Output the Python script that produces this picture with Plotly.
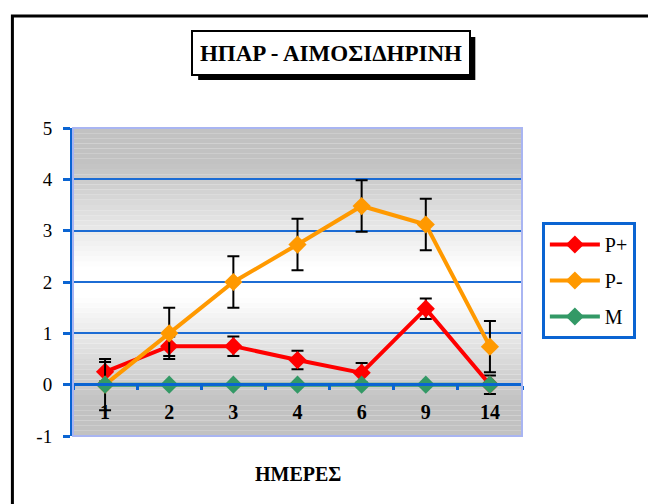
import plotly.graph_objects as go

# ---- data -------------------------------------------------------------
days = ["1", "2", "3", "4", "6", "9", "14"]

p_plus = [0.25, 0.75, 0.75, 0.48, 0.23, 1.48, 0.0]
p_plus_err = [0.19, 0.19, 0.19, 0.18, 0.19, 0.20, 0.18]

p_minus = [0.0, 1.0, 2.0, 2.73, 3.48, 3.12, 0.74]
p_minus_err = [0.5, 0.5, 0.5, 0.5, 0.5, 0.5, 0.5]

m_vals = [0, 0, 0, 0, 0, 0, 0]

y_ticks = [-1, 0, 1, 2, 3, 4, 5]
y_tick_text = ["-1", "0", "1", "2", "3", "4", "5"]

# ---- layout geometry (pixels) ---------------------------------------
W, H = 648, 504
L, R, T, B = 73, 525, 128, 436  # plot area


def px(x):
    return (x - L) / (R - L)


def py(y):
    return (B - y) / (B - T)


SERIF = "Liberation Serif, Times New Roman, serif"
AXIS_BLUE = "#0a64d2"
GRID_BLUE = "#1c6cd4"
EDGE = "#a9b5f2"

fig = go.Figure()

err_style = dict(type="data", color="black", thickness=2, width=6, visible=True)

fig.add_trace(go.Scatter(
    x=days, y=p_plus, name="P+", mode="lines+markers", legendgroup="a",
    line=dict(color="#ff0000", width=4),
    marker=dict(symbol="diamond", size=14, color="#ff0000"),
    error_y=dict(array=p_plus_err, **err_style),
))
fig.add_trace(go.Scatter(
    x=days, y=p_minus, name="P-", mode="lines+markers", legendgroup="b",
    line=dict(color="#ff9900", width=4),
    marker=dict(symbol="diamond", size=14, color="#ff9900"),
    error_y=dict(array=p_minus_err, **err_style),
))
fig.add_trace(go.Scatter(
    x=days, y=m_vals, name="M", mode="lines+markers", legendgroup="c",
    line=dict(color="#339966", width=4),
    marker=dict(symbol="diamond", size=14, color="#339966"),
))

shapes = []

# plot-area fill: grey at top and bottom, white band in the middle
steps = 60
for i in range(steps):
    y0 = -1 + 6 * i / steps
    y1 = -1 + 6 * (i + 1) / steps
    v = (y0 + y1) / 2
    if v > 2.3:
        t = min(1.0, (v - 2.3) / 2.0)
    elif v < 1.7:
        t = min(1.0, (1.7 - v) / 2.0)
    else:
        t = 0.0
    g = round(255 - t * (255 - 194))
    shapes.append(dict(
        type="rect", xref="paper", yref="y", x0=0, x1=1, y0=y0, y1=y1,
        fillcolor=f"rgb({g},{g},{g})", line=dict(width=0), layer="below",
    ))

# light frame around the plot area
shapes.append(dict(
    type="rect", xref="paper", yref="paper", x0=0, x1=1, y0=0, y1=1,
    line=dict(color=EDGE, width=2), fillcolor="rgba(0,0,0,0)", layer="above",
))

# outer chart frame
shapes.append(dict(
    type="rect", xref="paper", yref="paper",
    x0=px(12), x1=px(W + 40), y0=py(H + 40), y1=py(16),
    line=dict(color="black", width=3), fillcolor="rgba(0,0,0,0)",
))

# title drop shadow
shapes.append(dict(
    type="rect", xref="paper", yref="paper",
    x0=px(199), x1=px(478), y0=py(80), y1=py(37),
    fillcolor="black", line=dict(width=0), layer="above",
))

annotations = [
    dict(
        text="<b>ΗΠΑΡ - ΑΙΜΟΣΙΔΗΡΙΝΗ</b>", xref="paper", yref="paper",
        x=px(332.5), y=py(52.5), xanchor="center", yanchor="middle",
        showarrow=False, font=dict(family=SERIF, size=23, color="black"),
        bgcolor="white", bordercolor="black", borderwidth=2, borderpad=2,
        width=272, height=38,
    ),
    dict(
        text="<b>ΗΜΕΡΕΣ</b>", xref="paper", yref="paper",
        x=px(299), y=py(474), xanchor="center", yanchor="middle",
        showarrow=False, font=dict(family=SERIF, size=20, color="black"),
    ),
]

fig.update_layout(
    width=W, height=H,
    margin=dict(l=L, r=W - R, t=T, b=H - B, pad=0),
    paper_bgcolor="white", plot_bgcolor="white",
    shapes=shapes, annotations=annotations,
    showlegend=True,
    legend=dict(
        x=px(545), y=py(222), xanchor="left", yanchor="top",
        bgcolor="white", bordercolor=AXIS_BLUE, borderwidth=3,
        font=dict(family=SERIF, size=20, color="black"),
        tracegroupgap=7, itemwidth=50,
    ),
    xaxis=dict(
        type="category", categoryorder="array", categoryarray=days,
        range=[-0.5, 6.5], anchor="free", position=py(384),
        showline=True, linecolor=AXIS_BLUE, linewidth=3,
        ticks="outside", tickson="boundaries", ticklen=4, tickwidth=3,
        tickcolor=AXIS_BLUE, showgrid=False, zeroline=False,
        tickfont=dict(family=SERIF, size=20, color="black", weight="bold"),
        ticklabelstandoff=9,
    ),
    yaxis=dict(
        range=[-1, 5], tickvals=y_ticks, ticktext=y_tick_text,
        showline=True, linecolor=AXIS_BLUE,
        linewidth=3, ticks="outside", ticklen=7, tickwidth=3,
        tickcolor=AXIS_BLUE, showgrid=True, gridcolor=GRID_BLUE, gridwidth=2,
        zeroline=False,
        tickfont=dict(family=SERIF, size=19, color="black"),
        ticklabelstandoff=7,
    ),
)

fig.write_html("out.html")
